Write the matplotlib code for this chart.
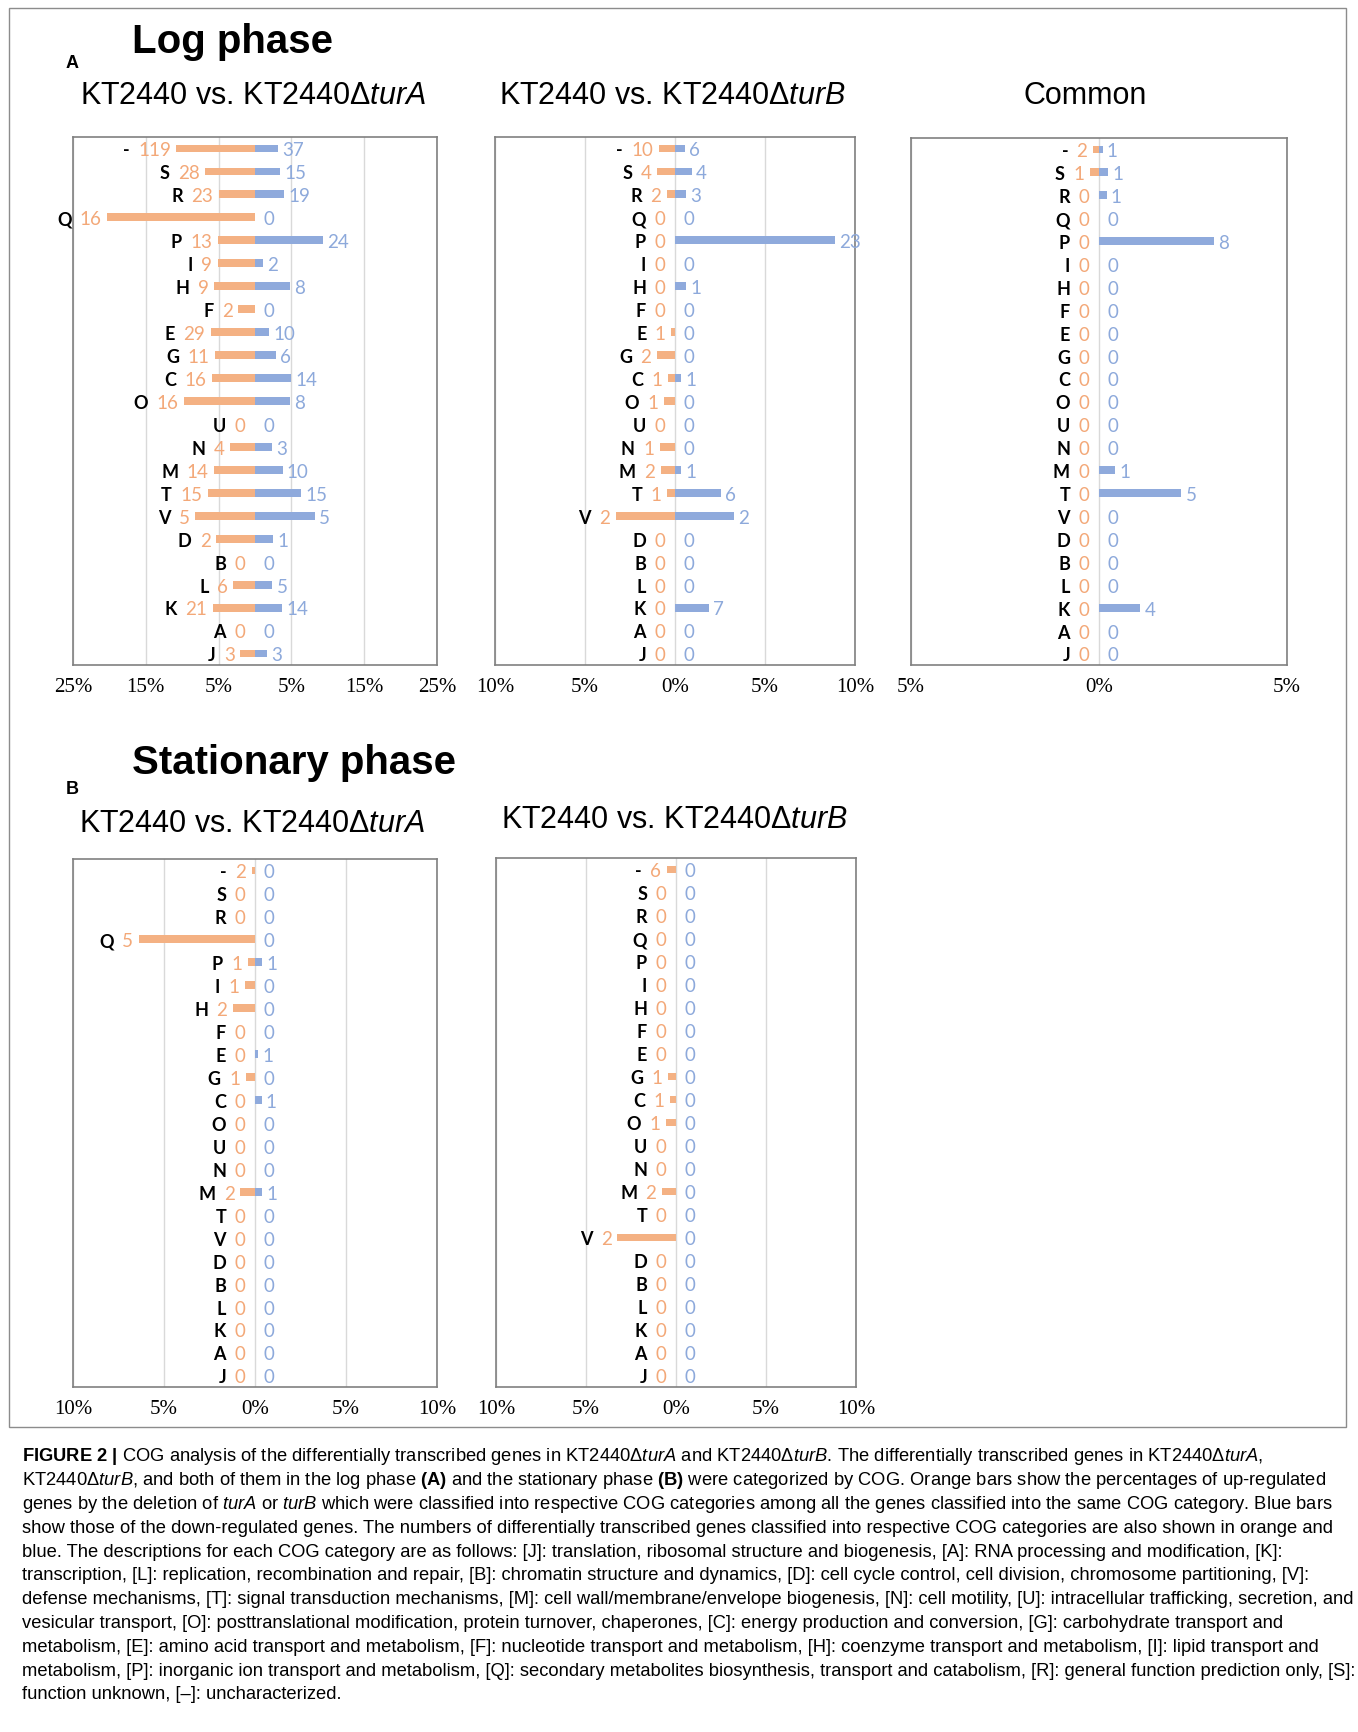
import numpy as np
import matplotlib.pyplot as plt
from matplotlib.patches import Rectangle

plt.rcParams['font.family'] = ['Liberation Sans', 'DejaVu Sans']
plt.rcParams['mathtext.fontset'] = 'custom'
plt.rcParams['mathtext.rm'] = 'Liberation Sans'
plt.rcParams['mathtext.it'] = 'Liberation Sans:italic'
plt.rcParams['mathtext.bf'] = 'Liberation Sans:bold'

##############################################################################
# data (percent of genes in each COG category, and gene counts)
cats = ['-', 'S', 'R', 'Q', 'P', 'I', 'H', 'F', 'E', 'G', 'C', 'O',
        'U', 'N', 'M', 'T', 'V', 'D', 'B', 'L', 'K', 'A', 'J']

# log phase, KT2440 vs turA
logA_up = [10.8, 6.8, 5.0, 20.3, 5.1, 5.1, 5.6, 2.3, 6.1, 5.5, 5.9, 9.8,
           0, 3.4, 5.6, 6.5, 8.2, 5.3, 0, 3.0, 5.8, 0, 2.0]
logA_down = [3.2, 3.5, 4.0, 0, 9.3, 1.1, 4.8, 0, 1.9, 2.9, 5.0, 4.8,
             0, 2.4, 3.8, 6.3, 8.2, 2.5, 0, 2.4, 3.7, 0, 1.7]
logA_n_up = [119, 28, 23, 16, 13, 9, 9, 2, 29, 11, 16, 16, 0, 4, 14, 15, 5, 2, 0, 6, 21, 0, 3]
logA_n_down = [37, 15, 19, 0, 24, 2, 8, 0, 10, 6, 14, 8, 0, 3, 10, 15, 5, 1, 0, 5, 14, 0, 3]

# log phase, KT2440 vs turB
logB_up = [0.9, 1.0, 0.46, 0, 0, 0, 0, 0, 0.2, 1.0, 0.37, 0.63,
           0, 0.85, 0.8, 0.44, 3.3, 0, 0, 0, 0, 0, 0]
logB_down = [0.55, 0.93, 0.61, 0, 8.9, 0, 0.6, 0, 0, 0, 0.33, 0,
             0, 0, 0.33, 2.55, 3.3, 0, 0, 0, 1.9, 0, 0]
logB_n_up = [10, 4, 2, 0, 0, 0, 0, 0, 1, 2, 1, 1, 0, 1, 2, 1, 2, 0, 0, 0, 0, 0, 0]
logB_n_down = [6, 4, 3, 0, 23, 0, 1, 0, 0, 0, 1, 0, 0, 0, 1, 6, 2, 0, 0, 0, 7, 0, 0]

# log phase, common
logC_up = [0.16, 0.25, 0, 0, 0, 0, 0, 0, 0, 0, 0, 0,
           0, 0, 0, 0, 0, 0, 0, 0, 0, 0, 0]
logC_down = [0.1, 0.24, 0.2, 0, 3.06, 0, 0, 0, 0, 0, 0, 0,
             0, 0, 0.42, 2.19, 0, 0, 0, 0, 1.1, 0, 0]
logC_n_up = [2, 1, 0, 0, 0, 0, 0, 0, 0, 0, 0, 0, 0, 0, 0, 0, 0, 0, 0, 0, 0, 0, 0]
logC_n_down = [1, 1, 1, 0, 8, 0, 0, 0, 0, 0, 0, 0, 0, 0, 1, 5, 0, 0, 0, 0, 4, 0, 0]

# stationary phase, KT2440 vs turA
statA_up = [0.18, 0, 0, 6.4, 0.39, 0.57, 1.22, 0, 0, 0.52, 0, 0,
            0, 0, 0.8, 0, 0, 0, 0, 0, 0, 0, 0]
statA_down = [0, 0, 0, 0, 0.4, 0, 0, 0, 0.18, 0, 0.37, 0,
              0, 0, 0.4, 0, 0, 0, 0, 0, 0, 0, 0]
statA_n_up = [2, 0, 0, 5, 1, 1, 2, 0, 0, 1, 0, 0, 0, 0, 2, 0, 0, 0, 0, 0, 0, 0, 0]
statA_n_down = [0, 0, 0, 0, 1, 0, 0, 0, 1, 0, 1, 0, 0, 0, 1, 0, 0, 0, 0, 0, 0, 0, 0]

# stationary phase, KT2440 vs turB
statB_up = [0.52, 0, 0, 0, 0, 0, 0, 0, 0, 0.44, 0.33, 0.56,
            0, 0, 0.78, 0, 3.26, 0, 0, 0, 0, 0, 0]
statB_down = [0] * 23
statB_n_up = [6, 0, 0, 0, 0, 0, 0, 0, 0, 1, 1, 1, 0, 0, 2, 0, 2, 0, 0, 0, 0, 0, 0]
statB_n_down = [0] * 23

caption = [
    r"$\mathbf{FIGURE\ 2\ |}$ COG analysis of the differentially transcribed genes in KT2440Δ$\mathit{turA}$ and KT2440Δ$\mathit{turB}$. The differentially transcribed genes in KT2440Δ$\mathit{turA}$,",
    r"KT2440Δ$\mathit{turB}$, and both of them in the log phase $\mathbf{(A)}$ and the stationary phase $\mathbf{(B)}$ were categorized by COG. Orange bars show the percentages of up-regulated",
    r"genes by the deletion of $\mathit{turA}$ or $\mathit{turB}$ which were classified into respective COG categories among all the genes classified into the same COG category. Blue bars",
    "show those of the down-regulated genes. The numbers of differentially transcribed genes classified into respective COG categories are also shown in orange and",
    "blue. The descriptions for each COG category are as follows: [J]: translation, ribosomal structure and biogenesis, [A]: RNA processing and modification, [K]:",
    "transcription, [L]: replication, recombination and repair, [B]: chromatin structure and dynamics, [D]: cell cycle control, cell division, chromosome partitioning, [V]:",
    "defense mechanisms, [T]: signal transduction mechanisms, [M]: cell wall/membrane/envelope biogenesis, [N]: cell motility, [U]: intracellular trafficking, secretion, and",
    "vesicular transport, [O]: posttranslational modification, protein turnover, chaperones, [C]: energy production and conversion, [G]: carbohydrate transport and",
    "metabolism, [E]: amino acid transport and metabolism, [F]: nucleotide transport and metabolism, [H]: coenzyme transport and metabolism, [I]: lipid transport and",
    "metabolism, [P]: inorganic ion transport and metabolism, [Q]: secondary metabolites biosynthesis, transport and catabolism, [R]: general function prediction only, [S]:",
    "function unknown, [–]: uncharacterized.",
]

##############################################################################
W, H = 1358, 1733
ORANGE = '#F4B183'
BLUE = '#8FAADC'
ORANGE_TXT = '#F3A878'
BLUE_TXT = '#8DA9DB'

fig = plt.figure(figsize=(W / 100, H / 100), dpi=100)


def panel(box, up, down, n_up, n_down, lim, ticks, ticklabels):
    l, t, r, b = box
    ax = fig.add_axes([l / W, 1 - b / H, (r - l) / W, (b - t) / H])
    y = np.arange(len(cats))
    ax.barh(y, [-v for v in up], height=0.34, color=ORANGE, zorder=2)
    ax.barh(y, down, height=0.34, color=BLUE, zorder=2)
    ax.set_xlim(-lim, lim)
    ax.set_ylim(len(cats) - 0.5, -0.5)
    ax.set_yticks([])
    ax.set_xticks(ticks)
    ax.set_xticklabels(ticklabels, family='Liberation Serif', fontsize=15)
    ax.tick_params(axis='x', length=0, pad=9)
    ax.grid(axis='x', color='#D9D9D9', lw=1)
    ax.set_axisbelow(True)
    for s in ax.spines.values():
        s.set_color('#808080')
        s.set_linewidth(1.2)
    for i, c in enumerate(cats):
        dx = -4 if up[i] > 0 else -7
        num = ax.annotate(str(n_up[i]), (-up[i], i), xytext=(dx, -1),
                          textcoords='offset points', ha='right', va='center',
                          color=ORANGE_TXT, fontsize=13.5, family='Lato')
        ax.annotate(c, (0, 0.5), xycoords=num, xytext=(-6, 0),
                    textcoords='offset points', ha='right', va='center',
                    fontweight='bold', fontsize=13, family='Lato')
        dx = 3 if down[i] > 0 else 6
        ax.annotate(str(n_down[i]), (down[i], i), xytext=(dx, -1),
                    textcoords='offset points', ha='left', va='center',
                    color=BLUE_TXT, fontsize=13.5, family='Lato')
    return ax


# Plot result
panel((73, 138, 437, 666), logA_up, logA_down, logA_n_up, logA_n_down, 25,
      [-25, -15, -5, 5, 15, 25], ['25%', '15%', '5%', '5%', '15%', '25%'])
panel((495, 138, 855, 666), logB_up, logB_down, logB_n_up, logB_n_down, 10,
      [-10, -5, 0, 5, 10], ['10%', '5%', '0%', '5%', '10%'])
panel((911, 139, 1287, 666), logC_up, logC_down, logC_n_up, logC_n_down, 5,
      [-5, 0, 5], ['5%', '0%', '5%'])
panel((73, 860, 437, 1388), statA_up, statA_down, statA_n_up, statA_n_down, 10,
      [-10, -5, 0, 5, 10], ['10%', '5%', '0%', '5%', '10%'])
panel((496, 859, 856, 1388), statB_up, statB_down, statB_n_up, statB_n_down, 10,
      [-10, -5, 0, 5, 10], ['10%', '5%', '0%', '5%', '10%'])


def ftext(x, y, s, **kw):
    fig.text(x / W, 1 - y / H, s, **kw)


ftext(66, 64, 'A', fontsize=13, fontweight='bold', va='center')
ftext(132, 42, 'Log phase', fontsize=29, fontweight='bold', va='center')
ftext(253, 96, r'KT2440 vs. KT2440Δ$\mathit{turA}$', fontsize=22, ha='center', va='center')
ftext(672, 96, r'KT2440 vs. KT2440Δ$\mathit{turB}$', fontsize=22, ha='center', va='center')
ftext(1085, 96, 'Common', fontsize=22, ha='center', va='center')

ftext(66, 790, 'B', fontsize=13, fontweight='bold', va='center')
ftext(132, 763, 'Stationary phase', fontsize=29, fontweight='bold', va='center')
ftext(252, 824, r'KT2440 vs. KT2440Δ$\mathit{turA}$', fontsize=22, ha='center', va='center')
ftext(674, 820, r'KT2440 vs. KT2440Δ$\mathit{turB}$', fontsize=22, ha='center', va='center')

fig.patches.append(Rectangle((9 / W, 1 - 1428 / H), 1337 / W, 1419 / H,
                             transform=fig.transFigure, fill=False,
                             edgecolor='#8C8C8C', lw=1))

for k, line in enumerate(caption):
    ftext(22, 1457 + k * 23.8, line, fontsize=13.2, va='center')

fig.savefig('out.png', dpi=100)
